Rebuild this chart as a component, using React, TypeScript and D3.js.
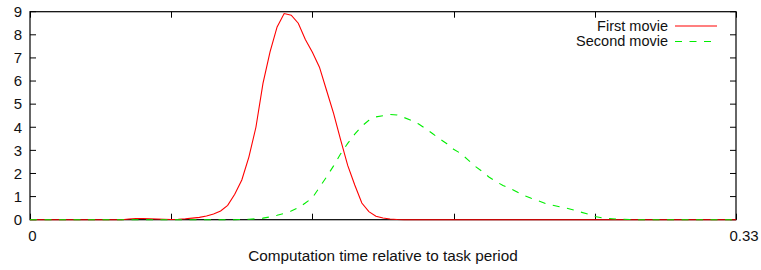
import React, { useRef, useEffect } from "react";
import * as d3 from "d3";

// sample positions (fraction of task period) and densities
const redX = [
  0, 0.0429, 0.0462, 0.0495, 0.0528, 0.0561, 0.0594, 0.0627, 0.066, 0.0693,
  0.0726, 0.0759, 0.0792, 0.0825, 0.0858, 0.0891, 0.0924, 0.0957, 0.099,
  0.1023, 0.1056, 0.1089, 0.1122, 0.1155, 0.1188, 0.1221, 0.1254, 0.1287,
  0.132, 0.1353, 0.1386, 0.1419, 0.1452, 0.1485, 0.1518, 0.1551, 0.1584,
  0.1617, 0.165, 0.1683, 0.1716, 0.1749, 0.33,
];
const redY = [
  0, 0, 0.03, 0.05, 0.05, 0.04, 0.03, 0.02, 0.01, 0.02, 0.04, 0.07, 0.1, 0.16,
  0.25, 0.38, 0.62, 1.1, 1.72, 2.71, 4.0, 5.9, 7.26, 8.34, 8.92, 8.85, 8.5,
  7.8, 7.25, 6.6, 5.6, 4.6, 3.45, 2.35, 1.5, 0.72, 0.35, 0.15, 0.07, 0.03,
  0.01, 0, 0,
];

const greenX = [
  0, 0.0957, 0.099, 0.1023, 0.1056, 0.1089, 0.1122, 0.1155, 0.1188, 0.1221,
  0.1254, 0.1287, 0.132, 0.1353, 0.1386, 0.1419, 0.1452, 0.1485, 0.1518,
  0.1551, 0.1584, 0.1617, 0.165, 0.1683, 0.1716, 0.1749, 0.1782, 0.1815,
  0.1848, 0.1881, 0.1914, 0.1947, 0.198, 0.2013, 0.2046, 0.2079, 0.2112,
  0.2145, 0.2178, 0.2211, 0.2244, 0.2277, 0.231, 0.2343, 0.2376, 0.2409,
  0.2442, 0.2475, 0.2508, 0.2541, 0.2574, 0.2607, 0.264, 0.2673, 0.2706,
  0.2739, 0.2772, 0.2805, 0.2838, 0.33,
];
const greenY = [
  0, 0, 0.01, 0.02, 0.04, 0.07, 0.12, 0.19, 0.27, 0.38, 0.52, 0.72, 0.95, 1.4,
  1.85, 2.33, 2.85, 3.3, 3.7, 4.05, 4.3, 4.45, 4.5, 4.55, 4.53, 4.42, 4.3,
  4.15, 3.95, 3.73, 3.5, 3.3, 3.05, 2.87, 2.6, 2.32, 2.1, 1.85, 1.65, 1.48,
  1.35, 1.2, 1.05, 0.93, 0.82, 0.7, 0.63, 0.56, 0.5, 0.42, 0.33, 0.25, 0.14,
  0.08, 0.05, 0.03, 0.02, 0.01, 0, 0,
];

const xTicks = [0, 0.066, 0.132, 0.198, 0.264, 0.33];
const xTickLabels = ["0", "", "", "", "", "0.33"];
const yTicks = [0, 1, 2, 3, 4, 5, 6, 7, 8, 9];
const seriesNames = ["First movie", "Second movie"];

export default function App() {
  const chartRef = useRef<SVGSVGElement>(null);

  useEffect(() => {
    const svg = d3.select(chartRef.current);
    svg.selectAll("*").remove();

    const width = 761;
    const height = 270;
    const margin = { top: 11.7, right: 25, bottom: 50.3, left: 30 };
    const innerWidth = width - margin.left - margin.right;
    const innerHeight = height - margin.top - margin.bottom;
    const font = "'Liberation Sans', Arial, sans-serif";

    const xScale = d3.scaleLinear().domain([0, 0.33]).range([0, innerWidth]);
    const yScale = d3.scaleLinear().domain([0, 9]).range([innerHeight, 0]);

    const g = svg
      .append("g")
      .attr("transform", `translate(${margin.left},${margin.top})`);

    // tick marks, pointing inwards on all four sides
    xTicks.forEach((t) => {
      const x = Math.round(xScale(t)) + 0.5;
      g.append("line").attr("x1", x).attr("x2", x)
        .attr("y1", innerHeight).attr("y2", innerHeight - 6)
        .attr("stroke", "#000");
      g.append("line").attr("x1", x).attr("x2", x)
        .attr("y1", 0).attr("y2", 6)
        .attr("stroke", "#000");
    });
    yTicks.forEach((t) => {
      const y = yScale(t);
      g.append("line").attr("x1", 0).attr("x2", 6)
        .attr("y1", y).attr("y2", y).attr("stroke", "#000");
      g.append("line").attr("x1", innerWidth).attr("x2", innerWidth - 6)
        .attr("y1", y).attr("y2", y).attr("stroke", "#000");
      g.append("text")
        .attr("x", -8)
        .attr("y", y + 5.3)
        .attr("text-anchor", "end")
        .attr("font-family", font)
        .attr("font-size", 15)
        .attr("fill", "#111")
        .text(t);
    });

    xTicks.forEach((t, i) => {
      if (!xTickLabels[i]) return;
      g.append("text")
        .attr("x", xScale(t) + (i === 0 ? 2.5 : 8))
        .attr("y", innerHeight + 21)
        .attr("text-anchor", "middle")
        .attr("font-family", font)
        .attr("font-size", 15)
        .attr("fill", "#111")
        .text(xTickLabels[i]);
    });

    g.append("rect")
      .attr("x", 0)
      .attr("y", 0)
      .attr("width", innerWidth)
      .attr("height", innerHeight)
      .attr("fill", "none")
      .attr("stroke", "#000")
      .attr("stroke-width", 1.2);

    const redPath = d3
      .line<number>()
      .x((_, i) => xScale(redX[i]))
      .y((d) => yScale(d));
    const greenPath = d3
      .line<number>()
      .x((_, i) => xScale(greenX[i]))
      .y((d) => yScale(d));

    g.append("path")
      .datum(redY)
      .attr("d", redPath)
      .attr("fill", "none")
      .attr("stroke", "#ff0000")
      .attr("stroke-width", 1.1);

    g.append("path")
      .datum(greenY)
      .attr("d", greenPath)
      .attr("fill", "none")
      .attr("stroke", "#00ee00")
      .attr("stroke-width", 1.1)
      .attr("stroke-dasharray", "7,7.5");

    // legend
    const legend = [
      { name: seriesNames[0], color: "#ff0000", dash: null, y: 14.3 },
      { name: seriesNames[1], color: "#00ee00", dash: "7,7.5", y: 29.8 },
    ];
    legend.forEach((l) => {
      g.append("text")
        .attr("x", 638)
        .attr("y", l.y + 5)
        .attr("text-anchor", "end")
        .attr("font-family", font)
        .attr("font-size", 14.5)
        .attr("fill", "#111")
        .text(l.name);
      g.append("line")
        .attr("x1", 645)
        .attr("x2", 687)
        .attr("y1", l.y)
        .attr("y2", l.y)
        .attr("stroke", l.color)
        .attr("stroke-width", 1.1)
        .attr("stroke-dasharray", l.dash);
    });

    g.append("text")
      .attr("x", innerWidth / 2)
      .attr("y", innerHeight + 41)
      .attr("text-anchor", "middle")
      .attr("font-family", font)
      .attr("font-size", 15.3)
      .attr("fill", "#111")
      .text("Computation time relative to task period");
  }, []);

  return (
    <div style={{ position: "absolute", left: 0, top: 0 }}>
      <svg ref={chartRef} width={761} height={270} style={{ display: "block", background: "#fff" }}></svg>
    </div>
  );
}
